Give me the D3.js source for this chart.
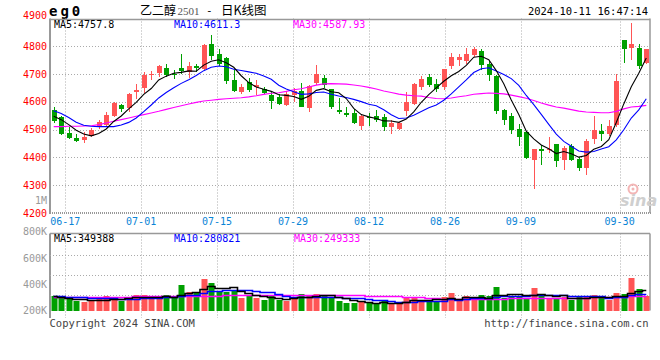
<!DOCTYPE html>
<html><head><meta charset="utf-8">
<script src="https://cdn.jsdelivr.net/npm/d3@7"></script>
<style>
body{margin:0;background:#fff}
svg{display:block}
text{font-family:"DejaVu Sans Mono",monospace;font-size:10px}
</style>
</head><body>
<svg id="c" width="660" height="360"></svg>
<script>
// ---------------- data ----------------
const dates=["06-13","06-14","06-17","06-18","06-19","06-20","06-21","06-24","06-25","06-26","06-27","06-28",
"07-01","07-02","07-03","07-04","07-05","07-08","07-09","07-10","07-11","07-12","07-15","07-16","07-17","07-18","07-19","07-22","07-23","07-24","07-25","07-26","07-29","07-30","07-31",
"08-01","08-02","08-05","08-06","08-07","08-08","08-09","08-12","08-13","08-14","08-15","08-16","08-19","08-20","08-21","08-22","08-23","08-26","08-27","08-28","08-29","08-30",
"09-02","09-03","09-04","09-05","09-06","09-09","09-10","09-11","09-12","09-13","09-18","09-19","09-20","09-23","09-24","09-25","09-26","09-27","09-30",
"10-08","10-09","10-10","10-11"];
const openP=[4572,4544,4489,4471,4462,4477,4508,4516,4548,4587,4577,4636,4650,4696,4704,4723,4700,4721,4708,4729,
4719,4807,4771,4757,4678,4635,4672,4654,4647,4626,4617,4588,4623,4638,4578,4668,4685,4645,4570,4559,
4559,4514,4546,4548,4545,4510,4503,4568,4593,4654,4690,4663,4654,4729,4750,4747,4768,4783,4735,4693,
4570,4548,4502,4492,4390,4430,4425,4448,4390,4442,4396,4363,4466,4496,4486,4516,4822,4795,4795,4741];
const highP=[4580,4548,4508,4486,4492,4506,4536,4562,4600,4594,4631,4663,4708,4710,4733,4738,4714,4774,4744,4738,
4807,4841,4789,4762,4714,4663,4687,4678,4654,4635,4630,4640,4651,4669,4660,4733,4696,4648,4613,4581,
4574,4556,4560,4570,4558,4536,4528,4637,4669,4693,4699,4684,4720,4777,4771,4795,4798,4792,4747,4698,
4574,4560,4522,4494,4432,4444,4473,4450,4442,4450,4402,4468,4548,4522,4536,4702,4824,4885,4810,4792];
const lowP=[4524,4479,4466,4456,4453,4472,4503,4511,4544,4563,4564,4612,4633,4678,4690,4690,4683,4702,4686,4708,
4714,4750,4728,4663,4636,4627,4636,4624,4627,4575,4588,4584,4599,4580,4564,4660,4651,4575,4558,4544,
4520,4498,4514,4528,4496,4486,4500,4548,4588,4642,4654,4636,4642,4720,4728,4738,4762,4716,4675,4556,
4518,4483,4441,4393,4286,4372,4417,4366,4354,4387,4352,4336,4450,4459,4478,4510,4740,4750,4720,4738];
const closeP=[4532,4484,4469,4460,4475,4500,4526,4551,4595,4574,4627,4642,4696,4701,4728,4696,4695,4711,4728,4722,
4805,4765,4738,4675,4639,4653,4642,4660,4632,4602,4593,4630,4638,4582,4656,4701,4660,4582,4564,4553,
4524,4548,4541,4534,4510,4523,4523,4600,4663,4684,4661,4645,4717,4762,4762,4771,4792,4734,4698,4568,
4534,4498,4474,4399,4430,4424,4430,4387,4435,4390,4363,4459,4499,4486,4512,4674,4792,4807,4729,4789];
const volume=[249200,232400,204400,159600,142800,159600,204400,249200,215600,159600,
204400,260400,260400,204400,215600,260400,215600,428400,310800,299600,
529200,462000,316400,316400,333200,210000,260400,210000,176400,260400,
176400,159600,232400,277200,243600,277200,243600,215600,159600,131600,
131600,159600,120400,109200,170800,109200,109200,226800,226800,170800,
159600,159600,226800,294000,159600,249200,170800,260400,243600,394800,
215600,249200,249200,215600,378000,260400,204400,187600,226800,170800,
226800,249200,260400,204400,170800,294000,277200,551600,361200,249200];
// moving-average values before enough history is visible
const ma5Head=[4548,4536,4518,4498];
const ma10Head=[4568,4558,4544,4527,4516,4512,4511,4511,4511];
const ma30Head=[4511,4511,4512,4512,4513,4514,4518,4524,4530,4536,4542,4548,4554,4560,4566,4573,4580,4586,4592,4598,4603,4606,4609,4611,4613,4615,4618,4622,4627];
const volMa5Head=[238000,226000,210000,200000];
const volMa10Head=[246000,240000,232000,226000,220000,215000,210000,206000,203000];
const volMa30Head=[234000,234000,233000,233000,232000,232000,232000,233000,233000,233000,234000,235000,236000,237000,238000,239000,240000,242000,244000,246000,248000,250000,251000,252000,253000,254000,255000,255000,256000];
const priceTicks=[4200,4300,4400,4500,4600,4700,4800,4900];
const volTicks=[200000,400000,600000,800000];
const volTickLabels=["200K","400K","600K","800K"];
const dateTicks=["06-17","07-01","07-15","07-29","08-12","08-26","09-09","09-30"];
const legendPrice={ma5:"MA5:4757.8",ma10:"MA10:4611.3",ma30:"MA30:4587.93"};
const legendVol={ma5:"MA5:349388",ma10:"MA10:280821",ma30:"MA30:249333"};

// ---------------- helpers ----------------
function movingAvg(arr,n,head){
  return arr.map((v,i)=> i<n-1 ? head[i] : d3.mean(arr.slice(i-n+1,i+1)));
}
const RED="#ff5555", GREEN="#00a000", GRID="#aaaaaa", AX="#999999";
const L=50,R=650, PT=18.5, PB=213, VT=233.5, VB=310.5;

const svg=d3.select("#c");
const xb=d3.scaleBand().domain(dates).range([L,R]).paddingInner(0.25).paddingOuter(0.12);
const xg=d3.scalePoint().domain(dates).range([L,R]);
const y=d3.scaleLinear().domain([4200,4900]).range([PB,PT]);
const yv=d3.scaleLinear().domain([0,1290000]).range([VB,VT]);
const yvl=d3.scaleLinear().domain([200000,800000]).range([310.7,231.7]);
const bw=5;
const cx=d=>Math.round(xb(d)+xb.bandwidth()/2);
const crisp=v=>Math.round(v)+0.5;

const data=dates.map((d,i)=>({d,o:openP[i],h:highP[i],l:lowP[i],c:closeP[i],v:volume[i]}));

// ---------------- header ----------------
svg.append("text").attr("x",49).attr("y",16).style("font-size","14px").style("font-weight","bold")
  .style("letter-spacing","3px").text("eg0");
svg.append("text").attr("x",140).attr("y",14.5).style("font-family","'Noto Sans CJK SC'").style("font-size","12px").text("乙二醇");
svg.append("text").attr("x",177.5).attr("y",14.5).style("font-family","'Liberation Serif'").style("font-size","11px").attr("fill","#555").text("2501");
svg.append("text").attr("x",206).attr("y",14).style("font-size","11px").text("-");
svg.append("text").attr("x",221).attr("y",14.5).style("font-family","'Noto Sans CJK SC'").style("font-size","12.5px").text("日K线图");
svg.append("text").attr("x",648).attr("y",15).attr("text-anchor","end").style("font-size","10.5px").text("2024-10-11 16:47:14");

// ---------------- price panel grid ----------------
const g=svg.append("g");
priceTicks.filter(v=>v>4200&&v<4900).forEach(v=>{
  g.append("line").attr("x1",L).attr("x2",R).attr("y1",crisp(y(v))).attr("y2",crisp(y(v)))
   .attr("stroke",GRID).attr("stroke-dasharray","1,2");
});
dateTicks.forEach(d=>{
  g.append("line").attr("x1",crisp(xg(d))).attr("x2",crisp(xg(d))).attr("y1",PT).attr("y2",PB)
   .attr("stroke",GRID).attr("stroke-dasharray","1,2");
  g.append("line").attr("x1",crisp(xg(d))).attr("x2",crisp(xg(d))).attr("y1",VT).attr("y2",318)
   .attr("stroke",GRID).attr("stroke-dasharray","1,2");
});
// borders
g.append("line").attr("x1",L).attr("x2",R).attr("y1",crisp(PT)).attr("y2",crisp(PT)).attr("stroke",AX).attr("stroke-width",1.5);
g.append("line").attr("x1",L).attr("x2",R+1).attr("y1",PB).attr("y2",PB).attr("stroke",AX).attr("stroke-width",2).attr("stroke-dasharray","1,1");
g.append("line").attr("x1",L).attr("x2",L).attr("y1",PT).attr("y2",PB+1).attr("stroke",AX).attr("stroke-width",2);
g.append("line").attr("x1",R).attr("x2",R).attr("y1",PT).attr("y2",PB).attr("stroke",AX).attr("stroke-width",1.5);
// volume borders & grid
g.append("line").attr("x1",L).attr("x2",R).attr("y1",VT).attr("y2",VT).attr("stroke",AX).attr("stroke-width",1.5);
g.append("line").attr("x1",L).attr("x2",L).attr("y1",VT).attr("y2",318).attr("stroke",AX).attr("stroke-width",2);
g.append("line").attr("x1",R).attr("x2",R).attr("y1",VT).attr("y2",VB).attr("stroke",AX).attr("stroke-width",1.5);
[1,2,3].forEach(k=>{
  const yy=crisp(VT+1.5+20*k);
  g.append("line").attr("x1",L).attr("x2",R).attr("y1",yy).attr("y2",yy).attr("stroke",GRID).attr("stroke-dasharray","1,2");
});

// watermark
const wm=svg.append("g");
wm.append("circle").attr("cx",633).attr("cy",189).attr("r",4.5).attr("fill","none").attr("stroke","#f3b5b5").attr("stroke-width",2);
wm.append("circle").attr("cx",633).attr("cy",189).attr("r",1.5).attr("fill","#f3b5b5");
wm.append("text").attr("x",620).attr("y",206).style("font-family","'DejaVu Sans'").style("font-size","16px")
  .style("font-weight","bold").style("font-style","italic").attr("fill","#cfcfcf").text("sina");

// ---------------- axis labels ----------------
priceTicks.forEach(v=>{
  svg.append("text").attr("x",47).attr("y",v===4900? y(v)+0.8 : y(v)+3.6).attr("text-anchor","end")
    .attr("fill","#ff0000").text(v);
});
svg.append("text").attr("x",47).attr("y",204.3).attr("text-anchor","end").attr("fill","#999").text("1M");
dateTicks.forEach(d=>{
  svg.append("text").attr("x",xg(d)).attr("y",224.8).attr("text-anchor","middle").attr("fill","#0a84d6").text(d);
});
volTicks.forEach((v,i)=>{
  svg.append("text").attr("x",47).attr("y",yvl(v)+3.6).attr("text-anchor","end").attr("fill","#999").text(volTickLabels[i]);
});

// ---------------- candles ----------------
const cg=svg.append("g");
data.forEach(p=>{
  const col=p.c>=p.o?RED:GREEN;
  const x=cx(p.d);
  cg.append("line").attr("x1",x+0.5).attr("x2",x+0.5).attr("y1",Math.round(y(p.h))).attr("y2",Math.round(y(p.l)))
    .attr("stroke",col).attr("stroke-width",1);
  const top=Math.round(y(Math.max(p.o,p.c))), bot=Math.round(y(Math.min(p.o,p.c)));
  cg.append("rect").attr("x",x-2).attr("y",top).attr("width",bw).attr("height",Math.max(1,bot-top)).attr("fill",col);
});

// MA lines
const lineP=d3.line().x((v,i)=>xb(dates[i])+xb.bandwidth()/2).y(v=>y(v));
const ma5=movingAvg(closeP,5,ma5Head), ma10=movingAvg(closeP,10,ma10Head), ma30=movingAvg(closeP,30,ma30Head);
[[ma30,"#ff00ff"],[ma10,"#0000ff"],[ma5,"#000000"]].forEach(([arr,col])=>{
  svg.append("path").attr("d",lineP(arr)).attr("fill","none").attr("stroke",col).attr("stroke-width",1.1);
});

// price legend
svg.append("text").attr("x",54).attr("y",27.5).attr("fill","#000").text(legendPrice.ma5);
svg.append("text").attr("x",174).attr("y",27.5).attr("fill","#0000ff").text(legendPrice.ma10);
svg.append("text").attr("x",293).attr("y",27.5).attr("fill","#ff00ff").text(legendPrice.ma30);

// ---------------- volume ----------------
const vg=svg.append("g");
data.forEach(p=>{
  const col=p.c>=p.o?RED:GREEN;
  const top=Math.round(yv(p.v));
  vg.append("rect").attr("x",cx(p.d)-2.5).attr("y",top).attr("width",6).attr("height",Math.round(yv(0))-top).attr("fill",col);
});
const lineV=d3.line().x((v,i)=>xb(dates[i])+xb.bandwidth()/2).y(v=>Math.round(yv(v))+0.5).curve(d3.curveStep);
const vma5=movingAvg(volume,5,volMa5Head), vma10=movingAvg(volume,10,volMa10Head), vma30=movingAvg(volume,30,volMa30Head);
[[vma30,"#ff00ff"],[vma10,"#0000ff"],[vma5,"#000000"]].forEach(([arr,col])=>{
  svg.append("path").attr("d",lineV(arr)).attr("fill","none").attr("stroke",col).attr("stroke-width",1.6);
});
svg.append("text").attr("x",54).attr("y",242).attr("fill","#000").text(legendVol.ma5);
svg.append("text").attr("x",174).attr("y",242).attr("fill","#0000ff").text(legendVol.ma10);
svg.append("text").attr("x",294).attr("y",242).attr("fill","#ff00ff").text(legendVol.ma30);

// footer
svg.append("text").attr("x",49.5).attr("y",327.3).attr("fill","#444").style("font-size","10.5px").text("Copyright 2024 SINA.COM");
svg.append("text").attr("x",648.5).attr("y",327.3).attr("text-anchor","end").attr("fill","#444").style("font-size","10.5px").text("http://finance.sina.com.cn");
</script>
</body></html>
